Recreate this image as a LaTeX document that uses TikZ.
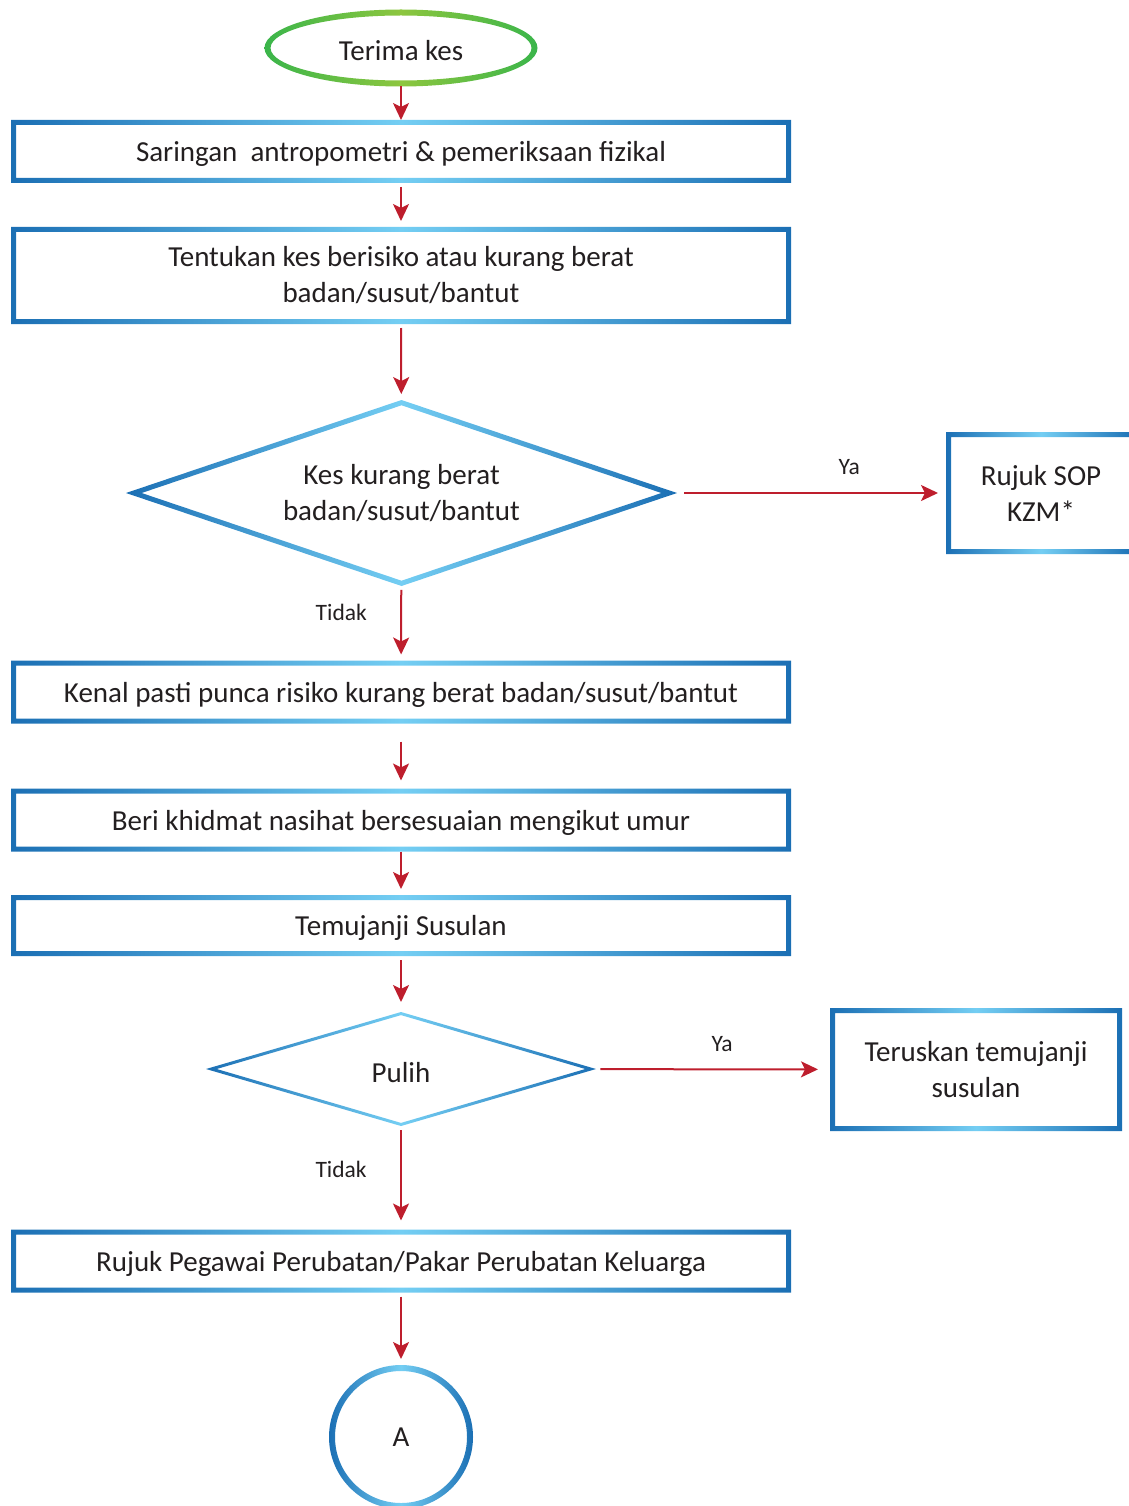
\documentclass[tikz,border=0pt]{standalone}
\usepackage{fontspec}
\setmainfont{Carlito}
\usepackage{tikz}
\usetikzlibrary{arrows.meta, shapes.geometric}
\definecolor{biruTua}{HTML}{1B6FB4}
\definecolor{biruMuda}{HTML}{74CEF3}
\definecolor{hijauTua}{HTML}{3AB54A}
\definecolor{hijauMuda}{HTML}{8DC63F}
\definecolor{merah}{HTML}{BE1E2D}
\definecolor{teks}{HTML}{231F20}

% bingkai kecerunan untuk kotak
\newcommand{\bingkai}[1]{%
  \shade[cincin] (#1.south west) rectangle (#1.north east)
    ([shift={(5pt,5pt)}]#1.south west) rectangle ([shift={(-5pt,-5pt)}]#1.north east);}
% bingkai kecerunan untuk intan
\newcommand{\bingkaiintan}[3]{%
  \shade[cincin] (#1.north) -- (#1.east) -- (#1.south) -- (#1.west) -- cycle
    ([yshift=-#3]#1.north) -- ([xshift=-#2]#1.east) -- ([yshift=#3]#1.south) -- ([xshift=#2]#1.west) -- cycle;}

\begin{document}
\begin{tikzpicture}[x=1pt, y=-1pt, >=Stealth,
  font=\fontsize{29}{36}\selectfont, text=teks,
  kotak/.style={rectangle, minimum width=780pt, minimum height=63pt, inner sep=0pt, outer sep=0pt, align=center},
  sebaris/.style={text depth=0pt},
  intan/.style={diamond, aspect=3, inner sep=0pt, outer sep=0pt, align=center},
  panah/.style={-{Stealth[length=17pt, width=16pt, inset=4pt]}, draw=merah, line width=2pt, shorten <=4pt, shorten >=6pt},
  tanda/.style={font=\fontsize{23.5}{28}\selectfont, text=teks},
  cincin/.style={even odd rule, left color=biruTua, right color=biruTua, middle color=biruMuda}]
  \useasboundingbox (0,0) rectangle (1128,1506);
  % Nod
  \node[ellipse, minimum width=273pt, minimum height=77pt, inner sep=0pt, outer sep=0pt, text height=26pt, text depth=0pt] (terima) at (401,48) {Terima kes};
  \node[kotak, sebaris] (saring) at (401,151.5) {Saringan\ \ antropometri \& pemeriksaan fizikal};
  \node[kotak, minimum height=97pt] (tentu) at (401,275.5) {Tentukan kes berisiko atau kurang berat\\badan/susut/bantut};
  \node[intan, minimum width=551pt, minimum height=186pt] (kes) at (401.5,493) {Kes kurang berat\\badan/susut/bantut};
  \node[kotak, minimum width=190pt, minimum height=122pt] (rujuk) at (1041,493) {Rujuk SOP\\KZM*};
  \node[kotak, sebaris] (kenal) at (401,692) {Kenal pasti punca risiko kurang berat badan/susut/bantut};
  \node[kotak, sebaris] (beri) at (401,820) {Beri khidmat nasihat bersesuaian mengikut umur};
  \node[kotak, sebaris, minimum height=61pt] (temu) at (401,925.5) {Temujanji Susulan};
  \node[intan, minimum width=390pt, minimum height=114pt, text height=26pt, text depth=0pt] (pulih) at (401,1069) {Pulih};
  \node[kotak, minimum width=292pt, minimum height=123pt] (terus) at (976,1069.5) {Teruskan temujanji\\susulan};
  \node[kotak, sebaris] (pegawai) at (401,1261) {Rujuk Pegawai Perubatan/Pakar Perubatan Keluarga};
  \node[circle, minimum size=144pt, inner sep=0pt, outer sep=0pt] (A) at (401,1437) {A};
  % Bingkai
  \shade[even odd rule, left color=hijauTua, right color=hijauTua, middle color=hijauMuda]
    (terima.center) ellipse [x radius=136.5pt, y radius=38.5pt]
    (terima.center) ellipse [x radius=130.5pt, y radius=32.5pt];
  \bingkai{saring}
  \bingkai{tentu}
  \bingkaiintan{kes}{15.6pt}{5.3pt}
  \bingkai{rujuk}
  \bingkai{kenal}
  \bingkai{beri}
  \bingkai{temu}
  \bingkaiintan{pulih}{10.7pt}{3.1pt}
  \bingkai{terus}
  \bingkai{pegawai}
  \shade[cincin] (A.center) circle [radius=72pt] (A.center) circle [radius=66pt];
  % Anak panah
  \draw[panah, shorten <=0pt, shorten >=0pt] (terima) -- (saring);
  \draw[panah] (saring) -- (tentu);
  \draw[panah] (tentu) -- (kes);
  \draw[panah, shorten <=7pt, shorten >=8pt] (kes) -- (rujuk) node[tanda, pos=0.64, above=14pt] {Ya};
  \draw[panah] (kes) -- (kenal) node[tanda, pos=0.35, left=30pt] {Tidak};
  \draw[panah, shorten <=18pt, shorten >=8pt] (kenal) -- (beri);
  \draw[panah, shorten <=0pt] (beri) -- (temu);
  \draw[panah, shorten >=10pt] (temu) -- (pulih);
  \draw[panah, shorten <=5pt, shorten >=12pt] (pulih) -- (terus) node[tanda, pos=0.54, above=13pt] {Ya};
  \draw[panah, shorten >=9pt] (pulih) -- (pegawai) node[tanda, pos=0.42, left=30pt] {Tidak};
  \draw[panah] (pegawai) -- (A);
\end{tikzpicture}
\end{document}
